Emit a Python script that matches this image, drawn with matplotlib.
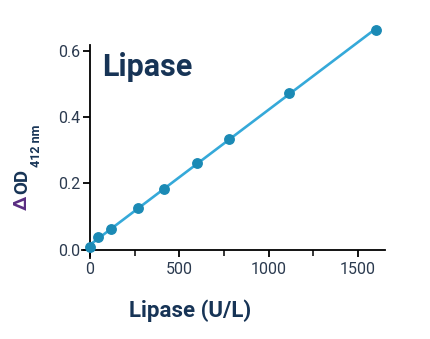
import matplotlib
matplotlib.use('Agg')
import matplotlib.pyplot as plt
import numpy as np
from matplotlib.ticker import MultipleLocator, FormatStrFormatter

# data
lipase = [0, 46, 117, 270, 413, 596, 777, 1112, 1598]   # U/L
delta_od = [0.008, 0.037, 0.063, 0.125, 0.184, 0.260, 0.333, 0.471, 0.662]
xticks = [0, 500, 1000, 1500]
yticks = [0.0, 0.2, 0.4, 0.6]

navy = "#173456"
purple = "#5a2d82"
dot_c = "#1b8ab5"
line_c = "#35a9d9"

W, H = 430, 339
def px(x, y):
    return (x / W, 1 - y / H)

plt.rcParams['font.family'] = ['Roboto', 'DejaVu Sans']

fig = plt.figure(figsize=(W / 100, H / 100), dpi=100)
ax = fig.add_axes([82 / W, 1 - 258 / H, (385 - 82) / W, (258 - 45) / H])

slope, icpt = np.polyfit(lipase, delta_od, 1)
xs = np.array([0, max(lipase)])
ax.plot(xs, slope * xs + icpt, color=line_c, lw=1.9, solid_capstyle='butt', clip_on=False, zorder=2)
ax.plot(lipase, delta_od, 'o', color=dot_c, ms=6.8, clip_on=False, zorder=3)

ax.set_xlim(-45, 1650)
ax.set_ylim(-0.025, 0.617)
for s in ['top', 'right']:
    ax.spines[s].set_visible(False)
ax.spines['left'].set_position(('data', 0))
ax.spines['bottom'].set_position(('data', 0))
for s in ['left', 'bottom']:
    ax.spines[s].set_linewidth(1.3)

ax.set_xticks(xticks)
ax.xaxis.set_minor_locator(MultipleLocator(250))
ax.set_yticks(yticks)
ax.yaxis.set_major_formatter(FormatStrFormatter('%.1f'))
ax.tick_params(axis='both', which='major', length=5, width=1.3, labelsize=11.5, labelcolor="#2b3a4f")
ax.tick_params(axis='x', which='major', pad=4)
ax.tick_params(axis='y', which='major', pad=2)
ax.tick_params(axis='x', which='minor', length=4, width=1.1)

fig.text(*px(102, 76), "Lipase", fontsize=22, fontweight='bold', color=navy, ha='left', va='baseline')
fig.text(*px(190, 311), "Lipase (U/L)", fontsize=16, fontweight='bold', color=navy, ha='center', va='center')

# y label: purple delta, navy OD, subscript
fig.text(*px(22, 203), "\u0394", fontsize=14, fontweight='bold', color=purple, rotation=90, ha='center', va='center')
fig.text(*px(22, 182), "OD", fontsize=13.5, fontweight='bold', color=navy, rotation=90, ha='center', va='center')
fig.text(*px(36, 167), "412 nm", fontsize=9, fontweight='bold', color=navy, rotation=90, ha='center', va='bottom')

fig.savefig("out.png", dpi=100, facecolor='white')
